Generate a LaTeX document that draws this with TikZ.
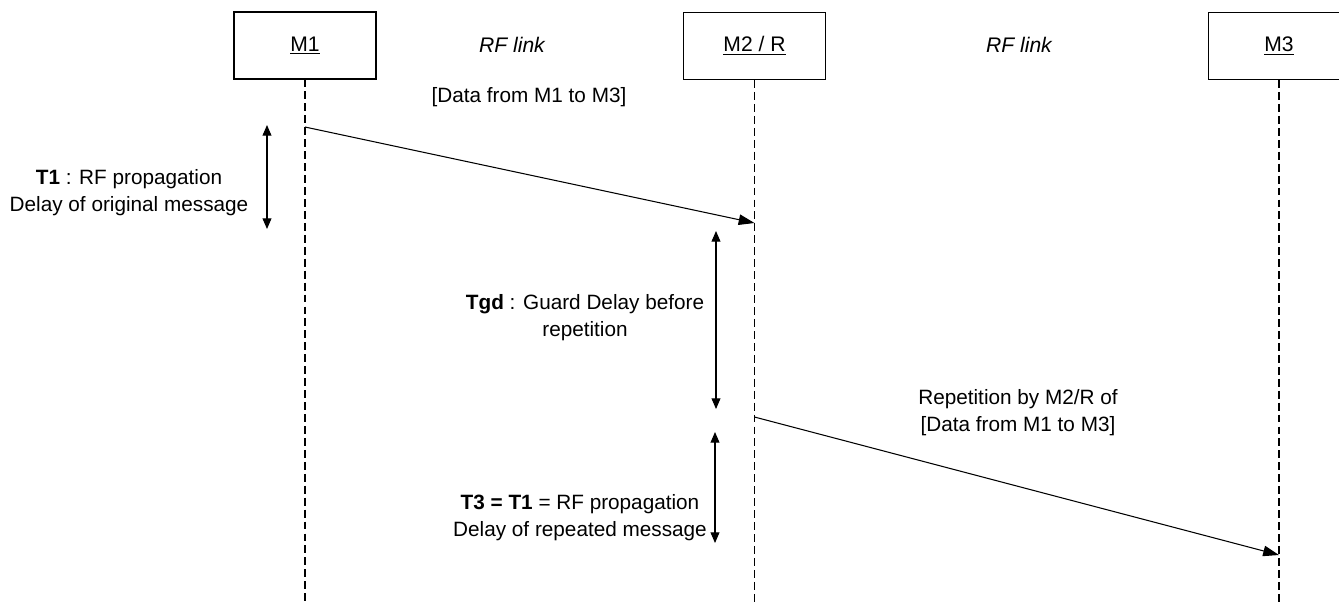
\documentclass[tikz,border=0pt]{standalone}
\usepackage{fontspec}
\setmainfont{Liberation Sans}
\usetikzlibrary{arrows.meta, positioning}
\tikzset{
  actor/.style={draw, line width=0.6pt, minimum width=2.84cm, minimum height=1.34cm, font=\fontsize{12}{14}\selectfont},
  lifeline/.style={dash pattern=on 4.5pt off 2.3pt, line width=0.6pt},
  msg/.style={-{Triangle[length=9pt,width=6pt]}, line width=0.6pt},
  delay/.style={{Triangle[length=6pt,width=5pt]}-{Triangle[length=6pt,width=5pt]}, line width=0.6pt},
  lbl/.style={align=center, font=\fontsize{11.8}{15.4}\selectfont},
}

\begin{document}
\begin{tikzpicture}[x=0.02cm, y=-0.02cm]
  \useasboundingbox (0,0) rectangle (1339,603);

  % the three stations
  \node[actor] (m1) at (305,45.5) {\underline{M1}};
  \node[actor] (m2) at (754.5,46) {\underline{M2 / R}};
  \node[actor] (m3) at (1279,46) {\underline{M3}};
  \node[lbl, font=\fontsize{12}{14}\selectfont\itshape] (link1) at (512,45) {RF link};
  \node[lbl, font=\fontsize{12}{14}\selectfont\itshape] (link2) at (1019,45) {RF link};

  % lifelines
  \coordinate (m1end) at (305,603);
  \coordinate (m2end) at (754.5,603);
  \coordinate (m3end) at (1279,603);
  \draw[lifeline] (m1.south) -- (m1end);
  \draw[lifeline] (m2.south) -- (m2end);
  \draw[lifeline] (m3.south) -- (m3end);

  % original message
  \coordinate (send1) at (305,127);
  \coordinate (recv1) at (754.5,223);
  \draw[msg] (send1) -- (recv1);
  \node[lbl] (data1) at (529,97) {[Data from M1 to M3]};

  % repeated message
  \coordinate (send2) at (754.5,417);
  \coordinate (recv2) at (1279,555);
  \draw[msg] (send2) -- (recv2);
  \node[lbl] (data2) at (1018,413) {Repetition by M2/R of\\{}[Data from M1 to M3]};

  % delays
  \coordinate (t1top) at (267,125);
  \coordinate (t1bot) at (267,229);
  \draw[delay] (t1top) -- (t1bot);
  \node[lbl] (t1txt) at (129,193) {\textbf{T1} : RF propagation\\Delay of original message};

  \coordinate (tgdtop) at (716,231);
  \coordinate (tgdbot) at (716,409);
  \draw[delay] (tgdtop) -- (tgdbot);
  \node[lbl] (tgdtxt) at (585,318) {\textbf{Tgd} : Guard Delay before\\repetition};

  \coordinate (t3top) at (715,432);
  \coordinate (t3bot) at (715,543);
  \draw[delay] (t3top) -- (t3bot);
  \node[lbl] (t3txt) at (580,518) {\textbf{T3 = T1} = RF propagation\\Delay of repeated message};
\end{tikzpicture}
\end{document}
